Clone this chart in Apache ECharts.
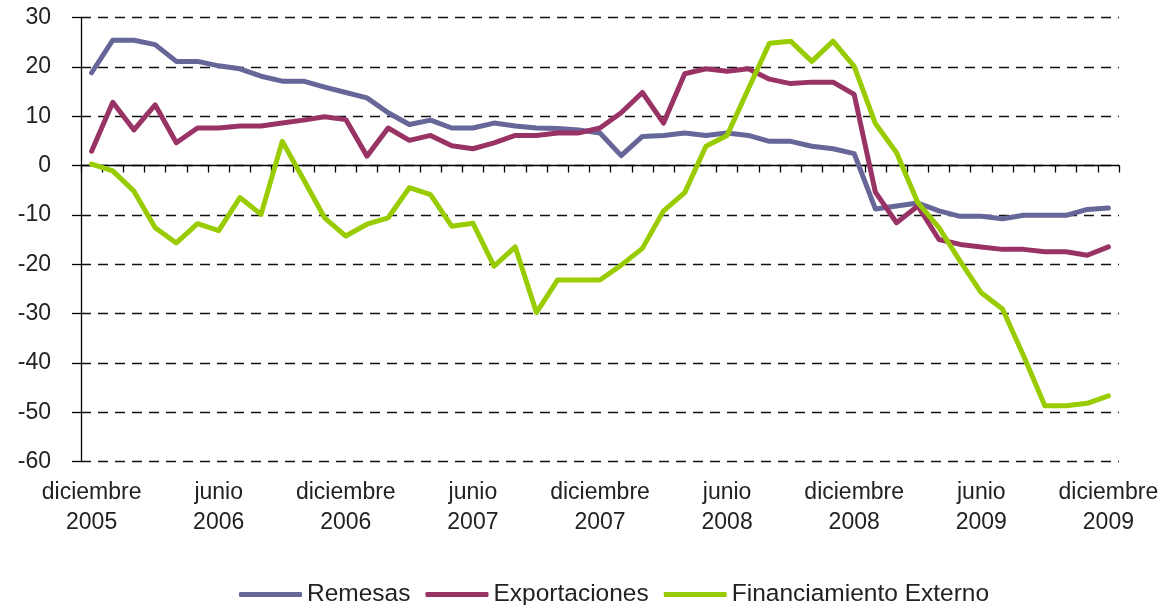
<!DOCTYPE html>
<html>
<head>
<meta charset="utf-8">
<script src="https://cdn.jsdelivr.net/npm/echarts@6/dist/echarts.min.js"></script>
<style>
  html, body { margin: 0; padding: 0; background: #fff; }
  #main { width: 1162px; height: 605px; }
</style>
</head>
<body>
<div id="main"></div>
<script>
// meses de diciembre 2005 a diciembre 2009
var monthNames = ['enero', 'febrero', 'marzo', 'abril', 'mayo', 'junio', 'julio',
  'agosto', 'septiembre', 'octubre', 'noviembre', 'diciembre'];
var categories = ['diciembre 2005'];
for (var y = 2006; y <= 2009; y++) {
  for (var m = 0; m < 12; m++) categories.push(monthNames[m] + ' ' + y);
}

var yTicks = { min: -60, max: 30, step: 10 };

var remesas = [18.8, 25.4, 25.4, 24.5, 21.1, 21.1, 20.2, 19.6, 18.1, 17.1, 17.1, 15.9, 14.8,
  13.7, 10.7, 8.3, 9.2, 7.6, 7.6, 8.6, 8.0, 7.6, 7.5, 7.2, 6.6, 2.0,
  5.9, 6.1, 6.6, 6.1, 6.6, 6.1, 4.9, 4.9, 3.9, 3.4, 2.4, -8.8, -8.2,
  -7.6, -9.2, -10.3, -10.3, -10.8, -10.1, -10.1, -10.1, -8.9, -8.6];

var exportaciones = [2.9, 12.8, 7.2, 12.3, 4.6, 7.6, 7.6, 8.0, 8.0, 8.6, 9.2, 9.9, 9.3,
  1.9, 7.6, 5.1, 6.1, 4.0, 3.4, 4.6, 6.1, 6.1, 6.6, 6.6, 7.6, 10.7,
  14.8, 8.6, 18.6, 19.6, 19.1, 19.6, 17.5, 16.6, 16.9, 16.9, 14.4, -5.4, -11.6,
  -8.2, -15.0, -16.0, -16.5, -17.0, -17.0, -17.5, -17.5, -18.2, -16.5];

var financiamiento = [0.3, -1.1, -5.2, -12.6, -15.7, -11.8, -13.2, -6.5, -9.9, 4.9, -2.8, -10.6, -14.3,
  -11.9, -10.6, -4.5, -5.9, -12.3, -11.7, -20.4, -16.5, -29.8, -23.2, -23.2, -23.2, -20.2,
  -16.8, -9.2, -5.5, 3.9, 6.1, 15.5, 24.8, 25.2, 21.1, 25.2, 20.1, 8.5, 2.6,
  -7.5, -12.6, -19.4, -25.8, -29.1, -38.6, -48.7, -48.7, -48.2, -46.7];

var chart = echarts.init(document.getElementById('main'));
var font = 'Liberation Sans, Arial, sans-serif';
var ink = '#222';

var option = {
  animation: false,
  backgroundColor: '#fff',
  textStyle: { fontFamily: font },
  grid: { left: 81, right: 43, top: 17.5, bottom: 143.5, containLabel: false },
  legend: {
    left: 234,
    top: 577,
    itemWidth: 63,
    itemHeight: 5,
    itemGap: 15,
    icon: 'roundRect',
    textStyle: { fontSize: 24.5, color: ink, fontFamily: font },
    data: ['Remesas', 'Exportaciones', 'Financiamiento Externo']
  },
  xAxis: [
    {
      // etiquetas abajo
      type: 'category',
      data: categories,
      position: 'bottom',
      boundaryGap: true,
      axisLine: { show: false, onZero: false },
      axisTick: { show: false },
      axisLabel: {
        interval: 5,
        fontSize: 23,
        color: ink,
        lineHeight: 30,
        margin: 16,
        formatter: function (v) { return v.replace(' ', '\n'); }
      },
      splitLine: { show: false }
    },
    {
      // linea del cero con marcas
      type: 'category',
      data: categories,
      position: 'top',
      boundaryGap: true,
      axisLine: { show: true, onZero: true, lineStyle: { color: '#000', width: 1.3 } },
      axisTick: { show: true, interval: 0, inside: true, length: 7, lineStyle: { color: '#000', width: 1.3 } },
      axisLabel: { show: false },
      splitLine: { show: false }
    }
  ],
  yAxis: {
    type: 'value',
    min: yTicks.min,
    max: yTicks.max,
    interval: yTicks.step,
    axisLine: { show: true, lineStyle: { color: '#000', width: 1.3 } },
    axisTick: { show: true, length: 9, lineStyle: { color: '#000', width: 1.3 } },
    axisLabel: { fontSize: 23, color: ink, margin: 30 },
    splitLine: { show: true, lineStyle: { color: '#111', width: 1.4, type: [10, 7] } }
  },
  series: [
    {
      name: 'Remesas',
      type: 'line',
      xAxisIndex: 0,
      data: remesas,
      symbol: 'none',
      color: '#666699',
      lineStyle: { width: 5, cap: 'round', join: 'round' }
    },
    {
      name: 'Exportaciones',
      type: 'line',
      xAxisIndex: 0,
      data: exportaciones,
      symbol: 'none',
      color: '#993366',
      lineStyle: { width: 5, cap: 'round', join: 'round' }
    },
    {
      name: 'Financiamiento Externo',
      type: 'line',
      xAxisIndex: 0,
      data: financiamiento,
      symbol: 'none',
      color: '#99CC00',
      lineStyle: { width: 5, cap: 'round', join: 'round' }
    }
  ]
};

chart.setOption(option);
</script>
</body>
</html>
